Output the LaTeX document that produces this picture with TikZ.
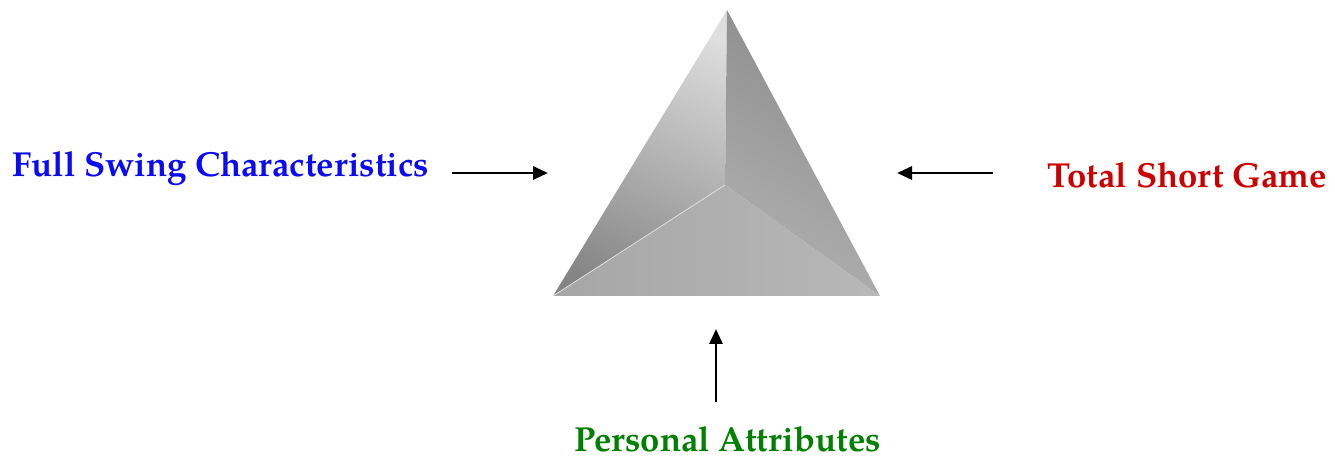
\documentclass[tikz,border=0pt]{standalone}
\usepackage{fontspec}
\setmainfont{TeX Gyre Pagella}
\usetikzlibrary{arrows.meta}
\definecolor{fsblue}{RGB}{10,10,245}
\definecolor{tsred}{RGB}{204,0,0}
\definecolor{pagreen}{RGB}{0,128,0}
\begin{document}
\begin{tikzpicture}[x=1pt,y=1pt,
  lbl/.style={font=\bfseries\fontsize{34.7}{40}\selectfont, inner sep=0pt},
  arr/.style={-{Triangle[length=15pt,width=13pt]}, line width=2.8pt}]
\useasboundingbox (0,0) rectangle (1335,460);
% pyramid corners
\coordinate (A) at (727,450);
\coordinate (C) at (725,275);
\coordinate (BL) at (553,164);
\coordinate (BR) at (880,164);
% left face
\begin{scope}
\clip (A)--(C)--(BL)--cycle;
\shade[top color={rgb,255:red,222;green,222;blue,222}, bottom color={rgb,255:red,132;green,132;blue,132}, shading angle=-25] (540,150) rectangle (740,460);
\end{scope}
% right face
\begin{scope}
\clip (A)--(BR)--(C)--cycle;
\shade[left color={rgb,255:red,138;green,138;blue,138}, right color={rgb,255:red,178;green,178;blue,178}, shading angle=-30] (715,150) rectangle (890,460);
\end{scope}
% bottom face
\begin{scope}
\clip (BL)--(C)--(BR)--cycle;
\shade[left color={rgb,255:red,166;green,166;blue,166}, right color={rgb,255:red,184;green,184;blue,184}] (550,160) rectangle (885,280);
\end{scope}
\draw[white!75!gray, line width=0.8pt] (BL)--(C);
% labels
\node[lbl, text=fsblue, anchor=base west] (fs) at (12,283) {Full Swing Characteristics};
\node[lbl, text=tsred, anchor=base east] (ts) at (1327,272) {Total Short Game};
\node[lbl, text=pagreen, anchor=base] (pa) at (727.5,8) {Personal Attributes};
% arrows
\coordinate (l1) at (452,287); \coordinate (l2) at (548,287);
\coordinate (r1) at (993,287); \coordinate (r2) at (897,287);
\coordinate (b1) at (716,58);  \coordinate (b2) at (716,131);
\draw[arr] (l1) -- (l2);
\draw[arr] (r1) -- (r2);
\draw[arr] (b1) -- (b2);
\end{tikzpicture}
\end{document}
